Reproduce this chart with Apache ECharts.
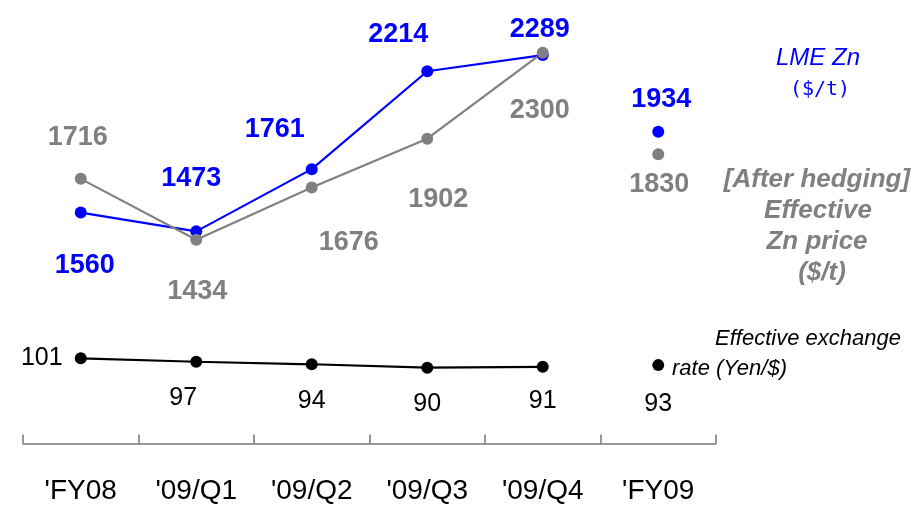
<!DOCTYPE html>
<html>
<head>
<meta charset="utf-8">
<script src="https://cdn.jsdelivr.net/npm/echarts@6/dist/echarts.min.js"></script>
<style>
  html, body { margin: 0; padding: 0; background: #fff; }
  #chart { width: 916px; height: 505px; }
</style>
</head>
<body>
<div id="chart"></div>
<script>
// categories and values
var categories = ["'FY08", "'09/Q1", "'09/Q2", "'09/Q3", "'09/Q4", "'FY09"];
var lmeZn = [1560, 1473, 1761, 2214, 2289, 1934];       // LME Zn ($/t)
var hedgedZn = [1716, 1434, 1676, 1902, 2300, 1830];    // effective Zn price after hedging ($/t)
var fxRate = [101, 97, 94, 90, 91, 93];                 // effective exchange rate (Yen/$)

// label offsets (px) from each point, same order as the categories
var lmeOffset = [[4, 53], [-5, -53], [-37, -40], [-29, -37], [-3, -26], [3, -32]];
var hedgedOffset = [[-3, -41], [1, 52], [37, 55], [11, 61], [-3, 58], [1, 30]];
var fxOffset = [[-39, 0], [-13, 36], [0, 37], [0, 36], [0, 34], [0, 39]];

var FONT = 'Liberation Sans, Arial, sans-serif';
var BLUE = '#0000ff', GRAY = '#808080', BLACK = '#000000';

var chart = echarts.init(document.getElementById('chart'));

// quarters are joined by a line, the FY09 point stands alone
function buildSeries(values, offsets, color, yIndex, labelFont) {
  function item(v, i) {
    return {
      value: v,
      label: { offset: offsets[i] }
    };
  }
  var lineData = values.map(function (v, i) { return i < values.length - 1 ? item(v, i) : '-'; });
  var dotData = values.map(function (v, i) { return i === values.length - 1 ? item(v, i) : '-'; });
  var label = {
    show: true,
    position: 'inside',
    color: color,
    opacity: 1,
    fontFamily: FONT,
    fontSize: labelFont.size,
    fontWeight: labelFont.weight,
    formatter: function (p) { return p.value; }
  };
  return [{
    type: 'line',
    yAxisIndex: yIndex,
    data: lineData,
    symbol: 'circle',
    symbolSize: 12,
    lineStyle: { color: color, width: 2.2 },
    itemStyle: { color: color, opacity: 1 },
    label: label,
    emphasis: { disabled: true },
    silent: true
  }, {
    type: 'scatter',
    yAxisIndex: yIndex,
    data: dotData,
    symbol: 'circle',
    symbolSize: 12,
    itemStyle: { color: color, opacity: 1 },
    label: label,
    emphasis: { disabled: true },
    silent: true
  }];
}

var series = []
  .concat(buildSeries(lmeZn, lmeOffset, BLUE, 0, { size: 27, weight: 'bold' }))
  .concat(buildSeries(hedgedZn, hedgedOffset, GRAY, 0, { size: 27, weight: 'bold' }))
  .concat(buildSeries(fxRate, fxOffset, BLACK, 1, { size: 25, weight: 'normal' }));

function note(text, x, y, color, font, align) {
  return {
    type: 'text',
    x: x,
    y: y,
    style: {
      text: text,
      fill: color,
      font: font,
      textAlign: align || 'center',
      textVerticalAlign: 'middle'
    }
  };
}

var option = {
  backgroundColor: '#fff',
  animation: false,
  grid: { left: 23, right: 200, top: 30, bottom: 55 },
  xAxis: {
    type: 'category',
    data: categories,
    boundaryGap: true,
    axisLine: { lineStyle: { color: '#777', width: 1.5 } },
    axisTick: { show: true, inside: true, length: 9, lineStyle: { color: '#777', width: 1.5 } },
    axisLabel: { color: '#000', fontFamily: FONT, fontSize: 28, margin: 30 },
    splitLine: { show: false }
  },
  yAxis: [
    { type: 'value', min: 475, max: 2405, show: false, splitLine: { show: false } },
    { type: 'value', min: -4, max: 490, show: false, splitLine: { show: false } }
  ],
  series: series,
  graphic: [
    note('LME Zn', 818, 58, BLUE, 'italic 24px ' + FONT),
    note('($/t)', 820, 90, BLUE, '20px DejaVu Sans Mono, monospace'),
    note('[After hedging]', 817, 180, GRAY, 'italic bold 26px ' + FONT),
    note('Effective', 818, 211, GRAY, 'italic bold 26px ' + FONT),
    note('Zn price', 817, 242, GRAY, 'italic bold 26px ' + FONT),
    note('($/t)', 822, 273, GRAY, 'italic bold 26px ' + FONT),
    note('Effective exchange', 715, 339, BLACK, 'italic 22px ' + FONT, 'left'),
    note('rate (Yen/$)', 672, 369, BLACK, 'italic 22px ' + FONT, 'left')
  ]
};

chart.setOption(option);
</script>
</body>
</html>
